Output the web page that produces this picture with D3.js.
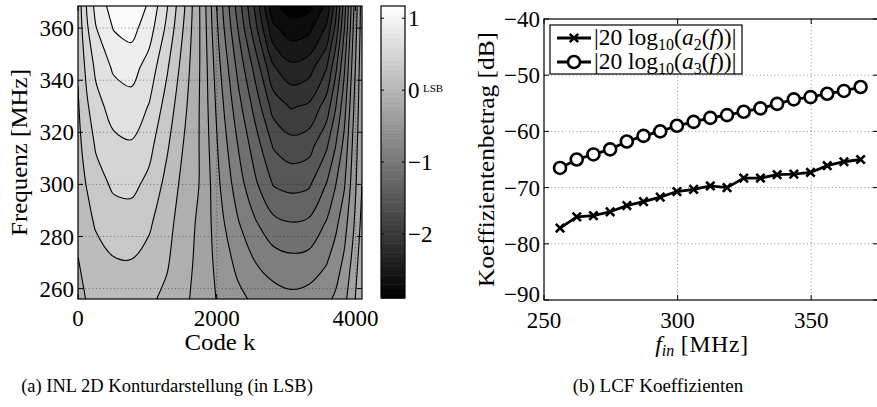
<!DOCTYPE html>
<html><head><meta charset="utf-8">
<script src="https://cdn.jsdelivr.net/npm/d3@7"></script>
<style>
body{margin:0;background:#fff}
svg{display:block}
text{font-family:"Liberation Serif","Times New Roman",serif;fill:#000}
</style>
</head><body>
<svg id="c" width="877" height="407"></svg>
<script>
// ---------------- DATA ----------------
// Panel (a): INL grid (LSB)
const codeCols = [0,128,256,512,768,1024,1280,1536,1792,2048,2304,2560,2816,3072,3328,3584,3712,3840,3968,4095];
const freqRows = [256,270,285,300,315,330,345,360,368.5];
const inlRow256 = [-0.06,0.01,0.04,0.07,0.07,0.03,-0.04,-0.16,-0.30,-0.43,-0.55,-0.64,-0.71,-0.75,-0.72,-0.64,-0.57,-0.45,-0.26,0.00];
const inlRow270 = [-0.01,0.07,0.12,0.18,0.19,0.13,0.02,-0.13,-0.28,-0.48,-0.65,-0.80,-0.90,-0.94,-0.92,-0.81,-0.70,-0.56,-0.34,-0.07];
const inlRow285 = [0.06,0.14,0.22,0.31,0.31,0.23,0.07,-0.11,-0.26,-0.54,-0.78,-0.98,-1.14,-1.19,-1.16,-0.98,-0.85,-0.68,-0.43,-0.14];
const inlRow300 = [0.12,0.21,0.32,0.43,0.45,0.35,0.14,-0.07,-0.23,-0.60,-0.90,-1.17,-1.41,-1.46,-1.43,-1.19,-1.01,-0.82,-0.50,-0.20];
const inlRow315 = [0.15,0.28,0.42,0.55,0.58,0.46,0.23,-0.02,-0.24,-0.66,-1.00,-1.31,-1.62,-1.72,-1.68,-1.43,-1.21,-0.94,-0.56,-0.22];
const inlRow330 = [0.18,0.37,0.53,0.68,0.72,0.59,0.32,0.04,-0.25,-0.72,-1.12,-1.48,-1.88,-2.02,-1.97,-1.71,-1.42,-1.08,-0.63,-0.24];
const inlRow345 = [0.22,0.46,0.64,0.83,0.88,0.72,0.43,0.10,-0.25,-0.79,-1.25,-1.68,-2.18,-2.35,-2.29,-2.01,-1.66,-1.23,-0.71,-0.26];
const inlRow360 = [0.26,0.57,0.79,1.01,1.07,0.89,0.56,0.17,-0.26,-0.88,-1.40,-1.95,-2.55,-2.72,-2.66,-2.37,-1.96,-1.41,-0.80,-0.29];
const inlRow368 = [0.28,0.62,0.86,1.09,1.16,0.97,0.62,0.21,-0.27,-0.92,-1.48,-2.05,-2.76,-2.89,-2.86,-2.55,-2.10,-1.50,-0.85,-0.30];
const inlRows = [inlRow256,inlRow270,inlRow285,inlRow300,inlRow315,inlRow330,inlRow345,inlRow360,inlRow368];
const contourLevels = [-2.8,-2.6,-2.4,-2.2,-2.0,-1.8,-1.6,-1.4,-1.2,-1.0,-0.8,-0.6,-0.4,-0.2,0,0.2,0.4,0.6,0.8,1.0];
const inlMin = -2.89, inlMax = 1.17;
const codeTicks = [0,2000,4000];
const freqTicks = [260,280,300,320,340,360];
const cbarTicks = [1,0,-1,-2];

// Panel (b): LCF coefficients
const fin = [256,262.25,268.5,274.75,281,287.25,293.5,299.75,306,312.25,318.5,324.75,331,337.25,343.5,349.75,356,362.25,368.5];
const a2dB = [-77.2,-75.2,-75.0,-74.3,-73.2,-72.5,-71.7,-70.7,-70.3,-69.7,-70.0,-68.3,-68.3,-67.7,-67.6,-67.3,-66.1,-65.4,-65.0];
const a3dB = [-66.5,-65.0,-64.1,-63.2,-61.8,-60.8,-60.0,-59.0,-58.3,-57.6,-57.1,-56.5,-55.9,-55.1,-54.3,-53.9,-53.3,-52.8,-52.1];
const finTicks = [250,300,350];
const dBTicks = [-90,-80,-70,-60,-50,-40];

// ---------------- DRAW ----------------
const svg = d3.select("#c");
const defs = svg.append("defs");
const FS = 23;
const minus = v => String(v).replace("-", "\u2212");

// ===== Panel (a) =====
const A = {l:78, r:362, t:6, b:299};
const xA = d3.scaleLinear().domain([0,4095]).range([A.l, A.r]);
const yA = d3.scaleLinear().domain([256,368.5]).range([A.b, A.t]);
const nx = codeCols.length, ny = freqRows.length;
const colIdx = d3.scaleLinear().domain(d3.range(nx)).range(codeCols);
const rowIdx = d3.scaleLinear().domain(d3.range(ny)).range(freqRows);
const grayOf = v => { const g = Math.round(255*Math.max(0,Math.min(1,(v-inlMin)/(inlMax-inlMin)))); return `rgb(${g},${g},${g})`; };

const contours = d3.contours().size([nx, ny]).thresholds(contourLevels)(inlRows.flat());

const sX = c => Math.max(0, Math.min(nx-1, c-0.5));
const sY = c => Math.max(0, Math.min(ny-1, c-0.5));
const toPx = p => [xA(colIdx(p[0])), yA(rowIdx(p[1]))];
const sameEdge = (p,q) => (p[0]===0&&q[0]===0)||(p[0]===nx-1&&q[0]===nx-1)||(p[1]===0&&q[1]===0)||(p[1]===ny-1&&q[1]===ny-1);
const openGen = d3.line().curve(d3.curveCatmullRom.alpha(0.5));
const closedGen = d3.line().curve(d3.curveCatmullRomClosed.alpha(0.5));
const eq = (a,b) => Math.abs(a[0]-b[0])<1e-9 && Math.abs(a[1]-b[1])<1e-9;

function ringPaths(ring) {
  const out = [];
  ring.forEach(p => { const q = [sX(p[0]), sY(p[1])]; if (!out.length || !eq(out[out.length-1], q)) out.push(q); });
  while (out.length > 1 && eq(out[0], out[out.length-1])) out.pop();
  const n = out.length;
  if (n < 3) return {fill:"", stroke:""};
  let start = -1;
  for (let i = 0; i < n; i++) if (sameEdge(out[i], out[(i+1)%n])) { start = (i+1)%n; break; }
  if (start < 0) { const d = closedGen(out.map(toPx)); return {fill:d, stroke:d}; }
  const seq = d3.range(n+1).map(j => out[(start+j)%n]);
  let fill = "M" + toPx(seq[0]).join(","), stroke = "";
  let run = [seq[0]];
  const flush = () => {
    if (run.length > 1) {
      const d = openGen(run.map(toPx));
      stroke += d;
      fill += d.replace(/^M[^A-Za-z]*/, "");
    }
  };
  for (let j = 1; j < seq.length; j++) {
    if (sameEdge(seq[j-1], seq[j])) { flush(); fill += "L" + toPx(seq[j]).join(","); run = [seq[j]]; }
    else run.push(seq[j]);
  }
  flush();
  return {fill: fill + "Z", stroke};
}

defs.append("clipPath").attr("id","clipA").append("rect")
  .attr("x",A.l).attr("y",A.t).attr("width",A.r-A.l).attr("height",A.b-A.t);
const gA = svg.append("g").attr("clip-path","url(#clipA)");
gA.append("rect").attr("x",A.l).attr("y",A.t).attr("width",A.r-A.l).attr("height",A.b-A.t)
  .attr("fill", grayOf((inlMin+contourLevels[0])/2));

const built = contours.map((c,i) => {
  const hi = i+1 < contourLevels.length ? contourLevels[i+1] : inlMax;
  const parts = c.coordinates.flatMap(poly => poly.map(ringPaths));
  return {value:c.value, hi, fill: parts.map(p=>p.fill).join(""), stroke: parts.map(p=>p.stroke).join("")};
});
built.forEach(b => {
  if (b.fill) gA.append("path").attr("d", b.fill).attr("fill", grayOf((b.value+b.hi)/2)).attr("fill-rule","evenodd");
});
built.forEach(b => {
  if (b.stroke) gA.append("path").attr("d", b.stroke).attr("fill","none").attr("stroke","#000").attr("stroke-width",1.1);
});

// grid (dotted)
const gridStyle = sel => sel.attr("stroke","#000").attr("stroke-opacity",0.55).attr("stroke-width",0.8).attr("stroke-dasharray","1,2.6");
freqTicks.forEach(f => gridStyle(gA.append("line").attr("x1",A.l).attr("x2",A.r).attr("y1",yA(f)).attr("y2",yA(f))));
codeTicks.forEach(k => gridStyle(gA.append("line").attr("x1",xA(k)).attr("x2",xA(k)).attr("y1",A.t).attr("y2",A.b)));

// axes box & ticks
const axA = svg.append("g");
axA.append("rect").attr("x",A.l).attr("y",A.t).attr("width",A.r-A.l).attr("height",A.b-A.t)
  .attr("fill","none").attr("stroke","#000").attr("stroke-width",1.2);
freqTicks.forEach(f => {
  const y = yA(f);
  axA.append("line").attr("x1",A.l).attr("x2",A.l+5).attr("y1",y).attr("y2",y).attr("stroke","#000");
  axA.append("line").attr("x1",A.r).attr("x2",A.r-5).attr("y1",y).attr("y2",y).attr("stroke","#000");
  axA.append("text").attr("x",A.l-4).attr("y",y).attr("dy","0.35em").attr("text-anchor","end").attr("font-size",FS).text(f);
});
codeTicks.forEach(k => {
  const x = xA(k);
  axA.append("line").attr("x1",x).attr("x2",x).attr("y1",A.b).attr("y2",A.b-5).attr("stroke","#000");
  axA.append("line").attr("x1",x).attr("x2",x).attr("y1",A.t).attr("y2",A.t+5).attr("stroke","#000");
  axA.append("text").attr("x",x).attr("y",326).attr("text-anchor","middle").attr("font-size",FS).text(k);
});
axA.append("text").attr("x",(A.l+A.r)/2).attr("y",350).attr("text-anchor","middle").attr("font-size",FS)
  .attr("textLength",71).attr("lengthAdjust","spacingAndGlyphs").text("Code k");
axA.append("text").attr("transform",`translate(19,${(A.t+A.b)/2}) rotate(-90)`).attr("dy","0.35em")
  .attr("text-anchor","middle").attr("font-size",FS).attr("textLength",167).attr("lengthAdjust","spacingAndGlyphs").text("Frequenz [MHz]");

// colorbar
const CB = {l:381, r:405, t:6, b:298};
const yCB = d3.scaleLinear().domain([inlMin, inlMax]).range([CB.b, CB.t]);
const nSteps = 64;
const gCB = svg.append("g");
d3.range(nSteps).forEach(i => {
  const v0 = inlMin + (inlMax-inlMin)*i/nSteps, v1 = inlMin + (inlMax-inlMin)*(i+1)/nSteps;
  gCB.append("rect").attr("x",CB.l).attr("width",CB.r-CB.l).attr("y",yCB(v1)).attr("height",yCB(v0)-yCB(v1)+0.5)
    .attr("fill", grayOf((v0+v1)/2));
});
gCB.append("rect").attr("x",CB.l).attr("y",CB.t).attr("width",CB.r-CB.l).attr("height",CB.b-CB.t)
  .attr("fill","none").attr("stroke","#000").attr("stroke-width",1.2);
cbarTicks.forEach(v => {
  const y = yCB(v);
  gCB.append("line").attr("x1",CB.l).attr("x2",CB.l+3).attr("y1",y).attr("y2",y).attr("stroke","#000");
  gCB.append("line").attr("x1",CB.r).attr("x2",CB.r-3).attr("y1",y).attr("y2",y).attr("stroke","#000");
  gCB.append("text").attr("x",CB.r+3).attr("y",y).attr("dy","0.35em").attr("font-size",FS).text(minus(v));
});
gCB.append("text").attr("x",423).attr("y",yCB(0)+2).attr("font-size",11).text("LSB");

// ===== Panel (b) =====
const B = {l:544, r:878, t:19, b:300};
const xB = d3.scaleLinear().domain([250,375]).range([B.l, B.r]);
const yB = d3.scaleLinear().domain([-90,-40]).range([B.b, B.t]);
const gB = svg.append("g");
// grid
finTicks.slice(1).forEach(f => gridStyle(gB.append("line").attr("x1",xB(f)).attr("x2",xB(f)).attr("y1",B.t).attr("y2",B.b)));
dBTicks.slice(1,-1).forEach(v => gridStyle(gB.append("line").attr("x1",B.l).attr("x2",B.r).attr("y1",yB(v)).attr("y2",yB(v))));
// box
gB.append("rect").attr("x",B.l).attr("y",B.t).attr("width",B.r-B.l).attr("height",B.b-B.t)
  .attr("fill","none").attr("stroke","#000").attr("stroke-width",1.2);
dBTicks.forEach((v,i) => {
  const y = yB(v);
  gB.append("line").attr("x1",B.l).attr("x2",B.l+5).attr("y1",y).attr("y2",y).attr("stroke","#000");
  gB.append("line").attr("x1",B.r).attr("x2",B.r-5).attr("y1",y).attr("y2",y).attr("stroke","#000");
  // lowest label nudged up slightly so it does not collide with the first x tick label
  gB.append("text").attr("x",B.l-4).attr("y", i === 0 ? y - 6 : y).attr("dy","0.35em").attr("text-anchor","end").attr("font-size",FS).text(minus(v));
});
finTicks.forEach(f => {
  const x = xB(f);
  gB.append("line").attr("x1",x).attr("x2",x).attr("y1",B.b).attr("y2",B.b-5).attr("stroke","#000");
  gB.append("line").attr("x1",x).attr("x2",x).attr("y1",B.t).attr("y2",B.t+5).attr("stroke","#000");
  gB.append("text").attr("x",x).attr("y",328).attr("text-anchor","middle").attr("font-size",FS).text(f);
});
// axis labels
const xl = gB.append("text").attr("x",702).attr("y",352).attr("text-anchor","middle").attr("font-size",23.5);
xl.append("tspan").attr("font-style","italic").text("f");
xl.append("tspan").attr("font-style","italic").attr("font-size",16).attr("dy",4).text("in");
xl.append("tspan").attr("dy",-4).attr("letter-spacing",0.8).text(" [MHz]");
gB.append("text").attr("transform",`translate(486,${(B.t+B.b)/2}) rotate(-90)`).attr("dy","0.35em")
  .attr("text-anchor","middle").attr("font-size",FS).attr("textLength",255).attr("lengthAdjust","spacingAndGlyphs")
  .text("Koeffizientenbetrag [dB]");

// lines
const lineB = d3.line().x((d,i)=>xB(fin[i])).y(d=>yB(d));
gB.append("path").attr("d", lineB(a2dB)).attr("fill","none").attr("stroke","#000").attr("stroke-width",2.8);
gB.append("path").attr("d", lineB(a3dB)).attr("fill","none").attr("stroke","#000").attr("stroke-width",2.8);
function crossMarker(g, x, y) {
  const s = 4.2;
  g.append("path").attr("d",`M${x-s},${y-s}L${x+s},${y+s}M${x-s},${y+s}L${x+s},${y-s}`)
    .attr("stroke","#000").attr("stroke-width",2.6).attr("fill","none");
}
function circleMarker(g, x, y) {
  g.append("circle").attr("cx",x).attr("cy",y).attr("r",6).attr("fill","#fff").attr("stroke","#000").attr("stroke-width",2.6);
}
a2dB.forEach((v,i) => crossMarker(gB, xB(fin[i]), yB(v)));
a3dB.forEach((v,i) => circleMarker(gB, xB(fin[i]), yB(v)));

// legend
const L = {x:550, y:25, w:192, h:49};
gB.append("rect").attr("x",L.x).attr("y",L.y).attr("width",L.w).attr("height",L.h)
  .attr("fill","#fff").attr("stroke","#000").attr("stroke-width",1.2);
function legendRow(y, idx, marker) {
  gB.append("line").attr("x1",557).attr("x2",591).attr("y1",y).attr("y2",y).attr("stroke","#000").attr("stroke-width",2.8);
  marker(gB, 574, y);
  const t = gB.append("text").attr("x",594).attr("y",y+7).attr("font-size",23.5);
  t.append("tspan").text("|20 log");
  t.append("tspan").attr("font-size",16).attr("dy",5).text("10");
  t.append("tspan").attr("dy",-5).text("(");
  t.append("tspan").attr("font-style","italic").text("a");
  t.append("tspan").attr("font-size",16).attr("dy",5).text(idx);
  t.append("tspan").attr("dy",-5).text("(");
  t.append("tspan").attr("font-style","italic").text("f");
  t.append("tspan").text("))|");
}
legendRow(38, "2", crossMarker);
legendRow(62, "3", circleMarker);

// captions
svg.append("text").attr("x",167).attr("y",392).attr("text-anchor","middle").attr("font-size",18.5)
  .text("(a)  INL 2D Konturdarstellung (in LSB)");
svg.append("text").attr("x",658).attr("y",392).attr("text-anchor","middle").attr("font-size",19)
  .text("(b)  LCF Koeffizienten");
</script>
</body></html>
